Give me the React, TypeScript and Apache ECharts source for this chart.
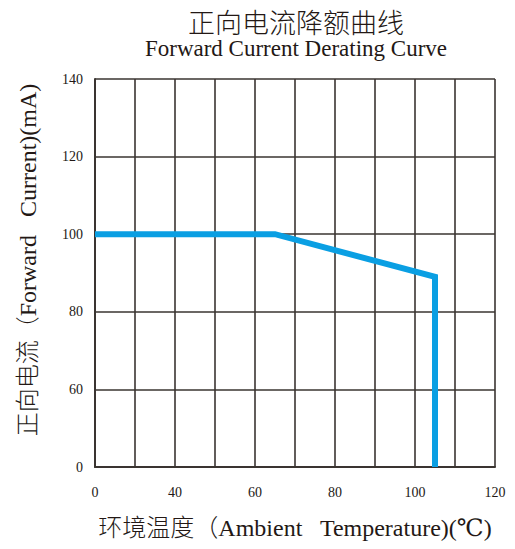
import React, { useEffect, useRef } from "react";
import * as echarts from "echarts";

// Real-world data
const temperatures = [0, 65, 105, 105]; // °C
const currents = [100, 100, 89, 0]; // mA

// Tick labels (real values) shown along the broken axes
const xTickLabels = [0, 40, 60, 80, 100, 120];
const yTickLabels = [0, 60, 80, 100, 120, 140];

// Piecewise (broken) axis mapping used by the original chart
// x: 0..40 occupies 2 grid columns, then 10 per column
const xToAxis = (v: number) => (v <= 40 ? v / 2 : v - 20);
const axisToX = (a: number) => (a <= 20 ? a * 2 : a + 20);
// y: 0..60 occupies 1 grid row, then 20 per row
const yToAxis = (v: number) => (v <= 60 ? v / 3 : v - 40);
const axisToY = (b: number) => (b <= 20 ? b * 3 : b + 40);

const serif = "'Liberation Serif', 'DejaVu Serif', 'Noto Sans CJK SC', serif";
const ink = "#231815";
const gridInk = "#3a3431";

export default function App() {
  const ref = useRef<HTMLDivElement>(null);
  useEffect(() => {
    if (!ref.current) return;
    const chart = echarts.init(ref.current, null, { renderer: "svg" });
    const data = temperatures.map((t, i) => [xToAxis(t), yToAxis(currents[i])]);
    chart.setOption({
      animation: false,
      title: {
        text: "正向电流降额曲线",
        subtext: "Forward Current Derating Curve",
        left: 283,
        textAlign: "center",
        top: -3,
        itemGap: 0,
        textStyle: { fontSize: 27, fontWeight: 300, color: ink, fontFamily: serif },
        subtextStyle: { fontSize: 23, color: ink, fontFamily: serif },
      },
      grid: { left: 87, top: 71, width: 400, height: 388, containLabel: false },
      xAxis: {
        type: "value",
        min: 0,
        max: 100,
        interval: 10,
        name: "环境温度（Ambient   Temperature)(℃)",
        nameLocation: "middle",
        nameGap: 49,
        nameTextStyle: { fontSize: 24, fontWeight: 300, color: ink, fontFamily: serif },
        axisLine: { show: true, lineStyle: { color: gridInk, width: 2 } },
        axisTick: { show: false },
        splitLine: { show: true, lineStyle: { color: gridInk, width: 1.6 } },
        axisLabel: {
          margin: 18,
          fontSize: 14,
          color: ink,
          fontFamily: serif,
          showMaxLabel: true,
          formatter: (a: number) => {
            const real = axisToX(a);
            return xTickLabels.includes(real) && a % 20 === 0 ? String(real) : "";
          },
        },
      },
      yAxis: {
        type: "value",
        min: 0,
        max: 100,
        interval: 20,
        name: "正向电流（Forward   Current)(mA)",
        nameLocation: "middle",
        nameGap: 55,
        nameRotate: 90,
        nameTextStyle: { fontSize: 24, fontWeight: 300, color: ink, fontFamily: serif, padding: [0, 0, 0, 26] },
        axisLine: { show: true, lineStyle: { color: gridInk, width: 2 } },
        axisTick: { show: false },
        splitLine: { show: true, lineStyle: { color: gridInk, width: 1.6 } },
        axisLabel: {
          margin: 12,
          fontSize: 14,
          color: ink,
          fontFamily: serif,
          formatter: (b: number) => {
            const real = axisToY(b);
            return yTickLabels.includes(real) ? String(real) : "";
          },
        },
      },
      series: [
        {
          type: "line",
          data,
          showSymbol: false,
          symbol: "none",
          lineStyle: { color: "#0a9fe3", width: 6, join: "miter" },
          z: 5,
        },
      ],
    });
    return () => chart.dispose();
  }, []);
  return <div ref={ref} style={{ width: 507, height: 541 }} />;
}
